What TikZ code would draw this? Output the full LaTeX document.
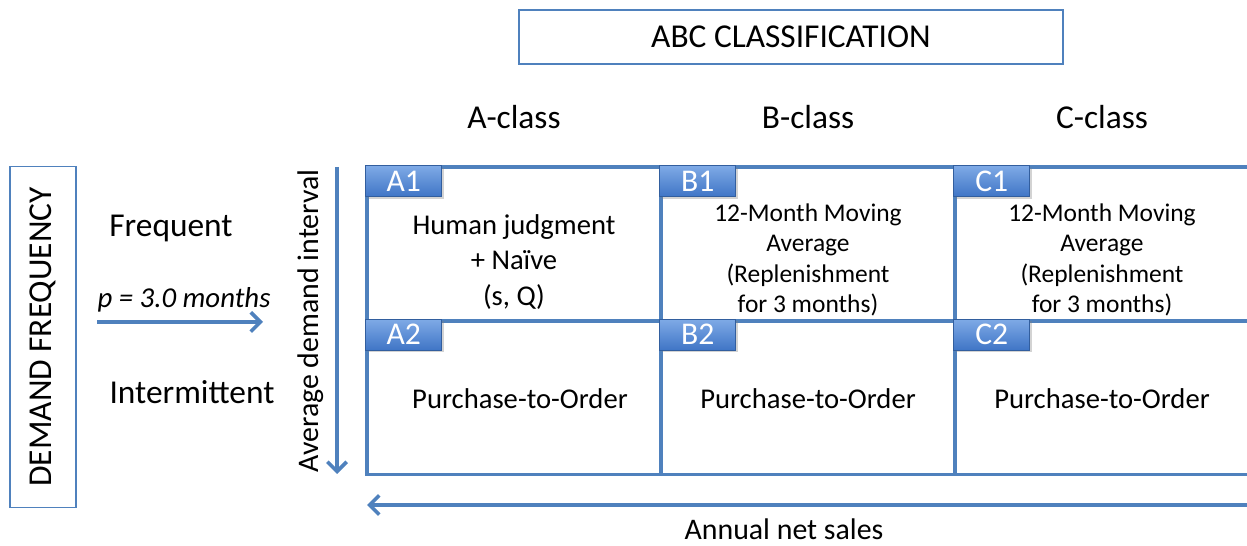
\documentclass[tikz,border=0pt]{standalone}
\usepackage{fontspec}
\setmainfont{Carlito}
\usetikzlibrary{arrows.meta,shadows}

\definecolor{lineblue}{HTML}{4F81BD}
\definecolor{tabtop}{HTML}{7FAAE6}
\definecolor{tabbot}{HTML}{3F75C6}

\tikzset{
  cell/.style={rectangle, draw=lineblue, line width=1.8pt, minimum width=5.88cm, minimum height=3.08cm, inner sep=0pt},
  tab/.style={rectangle, top color=tabtop, bottom color=tabbot, draw=tabbot!80!black, line width=0.3pt,
    minimum width=1.52cm, minimum height=0.62cm, inner sep=0pt, text=white, font=\fontsize{18}{20}\selectfont,
    drop shadow={opacity=0.35, shadow xshift=1.2pt, shadow yshift=-1.2pt}},
  celltext/.style={align=center, font=\fontsize{16.3}{20}\selectfont},
  smalltext/.style={align=center, font=\fontsize{14.5}{17.2}\selectfont},
  head/.style={font=\fontsize{19}{22}\selectfont},
  axis/.style={font=\fontsize{17}{20}\selectfont},
  frame/.style={rectangle, draw=lineblue, line width=1pt, inner sep=0pt},
  flow/.style={draw=lineblue, line width=2.1pt, -{Straight Barb[length=5.5pt, width=11pt, line width=2.1pt]}}
}

\begin{document}
\begin{tikzpicture}[x=0.02cm,y=-0.02cm]
\useasboundingbox (0,0) rectangle (1247,546);

% title
\node[frame, minimum width=10.88cm, minimum height=1.08cm, head](title) at (791,37) {ABC CLASSIFICATION};
\node[head](colA) at (514,117) {A-class};
\node[head](colB) at (808,117) {B-class};
\node[head](colC) at (1102,117) {C-class};

% left side
\node[frame, minimum width=1.32cm, minimum height=6.82cm](dfbox) at (43,337) {};
\node[head, rotate=90](dftext) at (dfbox.center) {DEMAND FREQUENCY};
\node[head](freq) at (171,228) {Frequent};
\node[head](inter) at (192,392) {Intermittent};
\node[font=\fontsize{16.4}{19}\selectfont\itshape](pval) at (184,300) {p = 3.0 months};
\coordinate (pstart) at (97,322);
\coordinate (pend) at (263,322);
\draw[flow] (pstart) -- (pend);

% grid
\node[cell](A1) at (514,244) {};
\node[cell](B1) at (808,244) {};
\node[cell](C1) at (1102,244) {};
\node[cell](A2) at (514,397.5) {};
\node[cell](B2) at (808,397.5) {};
\node[cell](C2) at (1102,397.5) {};
\foreach \c in {A1,B1,C1,A2,B2,C2}
  \node[tab, anchor=north west](tab\c) at (\c.north west) {\c};

\node[celltext](txtA1) at (514,262) {Human judgment\\+ Naïve\\(s, Q)};
\node[smalltext](txtB1) at (808,260) {12-Month Moving\\Average\\(Replenishment\\for 3 months)};
\node[smalltext](txtC1) at (1102,260) {12-Month Moving\\Average\\(Replenishment\\for 3 months)};
\node[celltext](txtA2) at (520,399) {Purchase-to-Order};
\node[celltext](txtB2) at (808,399) {Purchase-to-Order};
\node[celltext](txtC2) at (1102,399) {Purchase-to-Order};

% axes
\coordinate (vtop) at (337,167);
\coordinate (vbot) at (337,474);
\draw[flow] (vtop) -- (vbot);
\node[axis, rotate=90](vlabel) at (311,321) {Average demand interval};
\coordinate (hright) at (1260,505);
\coordinate (hleft) at (367,505);
\draw[flow] (hright) -- (hleft);
\node[axis, anchor=base](hlabel) at (784,540) {Annual net sales};
\end{tikzpicture}
\end{document}
